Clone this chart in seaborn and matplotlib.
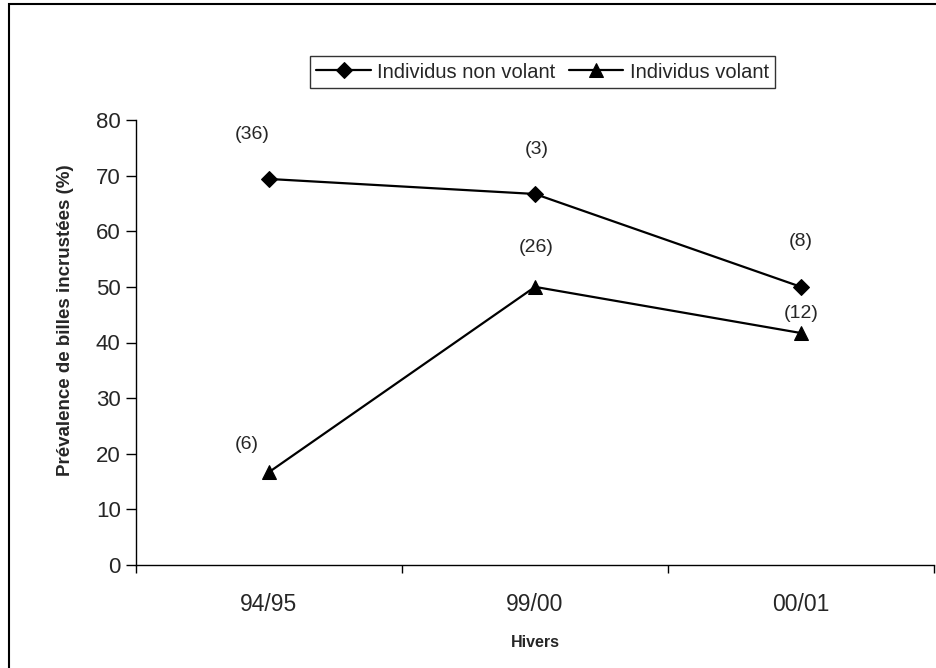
import matplotlib
matplotlib.use("Agg")
import matplotlib.pyplot as plt
from matplotlib.patches import Rectangle
from matplotlib.ticker import FixedLocator, NullFormatter
import seaborn as sns
import pandas as pd

# Winters and prevalence of embedded pellets (%)
hivers = ["94/95", "99/00", "00/01"]
non_volant = [69.4, 66.7, 50.0]
volant = [16.7, 50.0, 41.7]
# sample sizes shown above each point
n_non_volant = ["(36)", "(3)", "(8)"]
n_volant = ["(6)", "(26)", "(12)"]

series_names = ["Individus non volant", "Individus volant"]

df = pd.DataFrame({
    "Hivers": hivers * 2,
    "Prévalence": non_volant + volant,
    "Groupe": [series_names[0]] * 3 + [series_names[1]] * 3,
})

sns.set_style("white")
plt.rcParams["font.family"] = ["Liberation Sans", "DejaVu Sans"]

fig = plt.figure(figsize=(9.37, 6.68), dpi=100)
ax = fig.add_axes([136 / 937, 1 - 565 / 668, (934 - 136) / 937, (565 - 120) / 668])

sns.lineplot(
    data=df, x="Hivers", y="Prévalence", hue="Groupe", style="Groupe",
    palette=["black", "black"], markers={series_names[0]: "D", series_names[1]: "^"},
    dashes=False, linewidth=1.6, ax=ax, sort=False,
    markersize=10, markeredgecolor="black", legend=True,
)
for line in ax.lines:
    if line.get_marker() == "D":
        line.set_markersize(7.8)

# sample-size annotations (offsets in points)
offsets_nv = [(-12, 32), (1, 32), (0, 33)]
offsets_v = [(-16, 20), (1, 28), (0, 14)]
for i, (lab, off) in enumerate(zip(n_non_volant, offsets_nv)):
    ax.annotate(lab, (i, non_volant[i]), xytext=off, textcoords="offset points",
                ha="center", va="center", fontsize=14)
for i, (lab, off) in enumerate(zip(n_volant, offsets_v)):
    ax.annotate(lab, (i, volant[i]), xytext=off, textcoords="offset points",
                ha="center", va="center", fontsize=14)

ax.set_xlim(-0.5, 2.5)
ax.set_ylim(0, 80)
ax.set_yticks(range(0, 81, 10))
ax.set_xticks([0, 1, 2])
ax.set_xticklabels(hivers)
ax.xaxis.set_minor_locator(FixedLocator([-0.5, 0.5, 1.5, 2.5]))
ax.xaxis.set_minor_formatter(NullFormatter())
ax.tick_params(axis="x", which="major", bottom=False, length=0, labelsize=16.5, pad=20)
ax.tick_params(axis="x", which="minor", bottom=True, length=6, width=1, color="black", direction="out")
ax.tick_params(axis="y", which="major", left=True, length=7, width=1, color="black", direction="out",
               labelsize=16, pad=4)

for side in ["top", "right"]:
    ax.spines[side].set_visible(False)
for side in ["left", "bottom"]:
    ax.spines[side].set_color("black")
    ax.spines[side].set_linewidth(1.0)

ax.set_xlabel("Hivers", fontsize=11.5, fontweight="bold", labelpad=14)
ax.set_ylabel("Prévalence de billes incrustées (%)", fontsize=13.5, fontweight="bold")
ax.yaxis.set_label_coords(-0.078, 0.55)

leg = ax.legend(
    loc="center", bbox_to_anchor=((309 + 776) / 2 / 937, 1 - 72 / 668),
    bbox_transform=fig.transFigure, ncol=2, frameon=True, fancybox=False,
    fontsize=14.5, handlelength=2.7, columnspacing=0.7, handletextpad=0.3,
    borderpad=0.3, title=None,
)
leg.get_frame().set_edgecolor("black")
leg.get_frame().set_linewidth(1.0)
for h in leg.legend_handles:
    h.set_color("black")

# outer chart-area border
fig.add_artist(Rectangle((9.5 / 937, -0.1), 1.0, 1.1 - 4.5 / 668, transform=fig.transFigure,
                         fill=False, edgecolor="black", linewidth=1.5))

fig.savefig("out.png", dpi=100)
